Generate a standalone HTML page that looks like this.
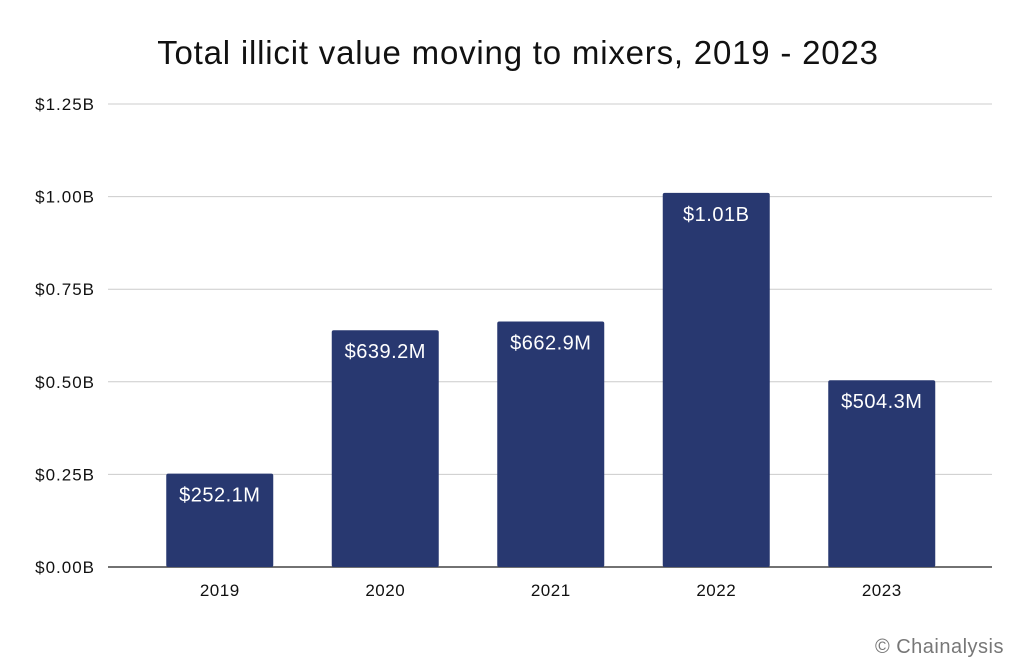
<!DOCTYPE html>
<html><head><meta charset="utf-8"><style>
body{margin:0;background:#fff;}
svg{display:block;font-family:"Liberation Sans",sans-serif;}
</style></head><body>
<svg id="chart" width="1024" height="672" viewBox="0 0 1024 672">
<rect width="1024" height="672" fill="#fff"/>
<text x="518" y="64" text-anchor="middle" font-size="33" letter-spacing="0.8" fill="#111">Total illicit value moving to mixers, 2019 - 2023</text>
<g id="grid"></g><g id="bars"></g><g id="xlabels"></g>
<text x="1004" y="653" text-anchor="end" font-size="20" letter-spacing="0.5" fill="#777">© Chainalysis</text>
</svg>
<script>
const categories=["2019","2020","2021","2022","2023"];
const values=[252.1,639.2,662.9,1010,504.3];
const valueLabels=["$252.1M","$639.2M","$662.9M","$1.01B","$504.3M"];
const tickValues=[0,250,500,750,1000,1250];
const tickLabels=["$0.00B","$0.25B","$0.50B","$0.75B","$1.00B","$1.25B"];
const NS="http://www.w3.org/2000/svg";
const y0=567,y1=104,xL=108,xR=992,bandStart=137,bandW=165.5,barW=107;
const y=v=>y0-(v/1250)*(y0-y1);
const xc=i=>bandStart+bandW*(i+0.5);
function mk(t,a,p,txt){const e=document.createElementNS(NS,t);for(const k in a)e.setAttribute(k,a[k]);if(txt!==undefined)e.textContent=txt;p.appendChild(e);return e;}
const g=document.getElementById('grid');
tickValues.forEach((v,i)=>{
 const l=mk('line',{x1:xL,x2:xR,y1:y(v),y2:y(v),stroke:i==0?'#444':'#ccc','stroke-width':i==0?1.5:1},g);
 
 
 const t=mk('text',{x:95,y:y(v)+6,'text-anchor':'end','font-size':17,'letter-spacing':1,fill:'#111'},g,tickLabels[i]);
 
 
});
const b=document.getElementById('bars'),xl=document.getElementById('xlabels');
values.forEach((v,i)=>{
 const r=mk('rect',{x:xc(i)-barW/2,y:y(v),width:barW,height:y0-y(v),fill:'#283870',rx:2},b);
 
 
 const t=mk('text',{x:xc(i),y:y(v)+28,'text-anchor':'middle','font-size':20,'letter-spacing':0.5,fill:'#fff'},b,valueLabels[i]);
 
 
 const c=mk('text',{x:xc(i),y:596,'text-anchor':'middle','font-size':17,'letter-spacing':0.5,fill:'#111'},xl,categories[i]);
 
 
});
</script>
</body></html>
